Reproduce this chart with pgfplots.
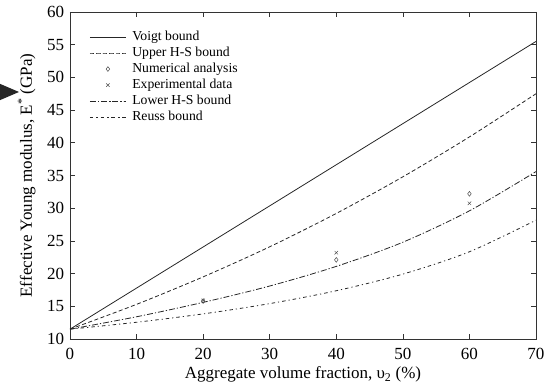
\documentclass[border=0pt]{standalone}
\usepackage{fontspec}
\setmainfont{Liberation Serif}
\usepackage{pgfplots}
\pgfplotsset{compat=1.18}
\begin{document}
\fontsize{17}{20}\selectfont
\begin{tikzpicture}
\useasboundingbox (-70pt,-48pt) rectangle (482pt,339pt);
\fill[black!85] (-72pt,256pt) -- (-51pt,247pt) -- (-72pt,238pt) -- cycle;
\begin{axis}[
 at={(0,0)}, anchor=south west, scale only axis, width=466pt, height=327pt,
 xmin=0,xmax=70,ymin=10,ymax=60,
 xtick={0,10,...,70}, ytick={10,15,...,60},
 tick align=inside, major tick length=5pt,
 tick style={black!80, line width=0.6pt},
 axis line style={black!80, line width=0.8pt},
 /pgf/number format/assume math mode=true,
 ticklabel style={font=\fontsize{17}{20}\selectfont},
 xticklabel style={yshift=-3pt},
 xlabel={Aggregate volume fraction, υ\textsubscript{2} (\%)},
 ylabel={Effective Young modulus, E\textsuperscript{*} (GPa)},
 xlabel style={yshift=4pt},
 label style={font=\fontsize{17}{20}\selectfont},
 legend style={draw=none, fill=none, at={(0.035,0.955)}, anchor=north west, font=\fontsize{13.7}{15}\selectfont, row sep=0pt, column sep=4pt},
 legend cell align=left,
 legend image code/.code={\draw[mark repeat=2,mark phase=2,#1] plot coordinates {(0pt,0pt) (18pt,0pt) (36pt,0pt)};},
]
\addplot[black!85, line width=0.8pt] coordinates {(0,11.5) (70,55.5)};
\addlegendentry{Voigt bound}
\addplot[black!85, line width=0.8pt, dash pattern=on 4pt off 2.5pt, smooth] coordinates {
(0,11.5) (10,15.3) (20,19.5) (30,24.1) (40,29.2) (50,34.8) (60,40.9) (70,47.5)};
\addlegendentry{Upper H-S bound}
\addplot[only marks, mark=diamond, mark size=2.4pt, black!70, mark options={line width=0.5pt}] coordinates {
(20,15.8) (40,22.1) (60,32.2)};
\addlegendentry{Numerical analysis}
\addplot[only marks, mark=x, mark size=2.4pt, black!70, mark options={line width=0.5pt}] coordinates {
(20,15.9) (40,23.2) (60,30.75)};
\addlegendentry{Experimental data}
\addplot[black!85, line width=0.8pt, dash pattern=on 6pt off 2pt on 1.2pt off 2pt, smooth] coordinates {
(0,11.5) (10,13.4) (20,15.6) (30,18.1) (40,21.1) (50,24.8) (60,29.6) (70,35.6)};
\addlegendentry{Lower H-S bound}
\addplot[black!85, line width=0.8pt, dash pattern=on 3.5pt off 3pt on 1.2pt off 3pt, smooth] coordinates {
(0,11.5) (10,12.56) (20,13.84) (30,15.41) (40,17.38) (50,19.92) (60,23.34) (70,28.17)};
\addlegendentry{Reuss bound}
\end{axis}
\end{tikzpicture}
\end{document}
